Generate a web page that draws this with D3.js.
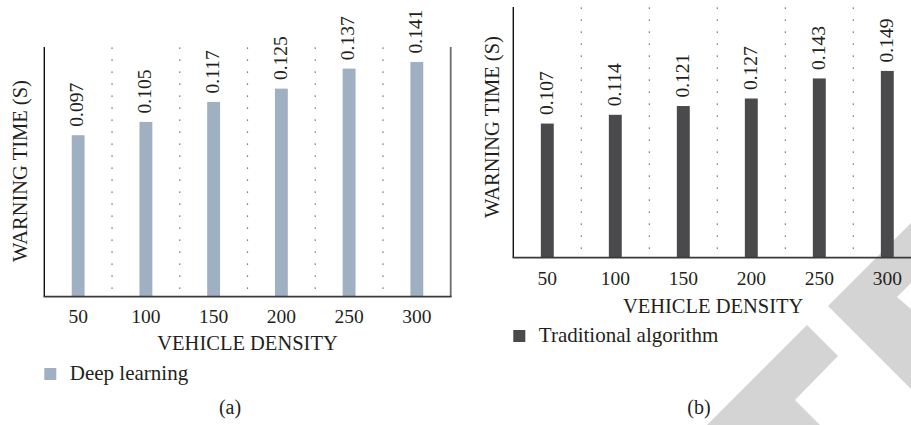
<!DOCTYPE html>
<html>
<head>
<meta charset="utf-8">
<script src="https://cdn.jsdelivr.net/npm/d3@7/dist/d3.min.js"></script>
<style>
  html, body { margin: 0; padding: 0; background: #fff; }
  svg { display: block; }
  text { font-family: "Liberation Serif", "Times New Roman", serif; fill: #231f20; }
</style>
</head>
<body>
<div id="chart"></div>
<script>
const W = 911, H = 425;

// data
const densities = ["50", "100", "150", "200", "250", "300"];
const deepLearning = [0.097, 0.105, 0.117, 0.125, 0.137, 0.141];
const traditional = [0.107, 0.114, 0.121, 0.127, 0.143, 0.149];
const seriesNames = ["Deep learning", "Traditional algorithm"];
const panelLabels = ["(a)", "(b)"];

const svg = d3.select("#chart").append("svg")
  .attr("width", W).attr("height", H)
  .attr("viewBox", `0 0 ${W} ${H}`);

// background watermark chevrons (decoration, bottom right)
const wm = svg.append("g").attr("fill", "#d4d4d4");
wm.append("polygon").attr("points", "940,194 828,306 947,425 947,340 897,297 940,254");
wm.append("polygon").attr("points", "807,325 838,356 795,400 830,435 697,435");

const panels = [
  { values: deepLearning, name: seriesNames[0], tag: panelLabels[0], color: "#9eb0c1",
    x0: 44.3, x1: 450.7, y0: 47, y1: 296.7, yMax: 0.15, rightLine: true,
    titleX: 20, titleY: 171, tickY: 323, xTitleY: 350, legY: 368, tagY: 414 },
  { values: traditional, name: seriesNames[1], tag: panelLabels[1], color: "#4a4a4c",
    x0: 513.3, x1: 921.3, y0: 7, y1: 257.7, yMax: 0.2, rightLine: false,
    titleX: 492, titleY: 127, tickY: 284.5, xTitleY: 313, legY: 330, tagY: 414 }
];

panels.forEach(p => {
  const g = svg.append("g");
  const x = d3.scaleBand().domain(densities).range([p.x0, p.x1]).padding(0);
  const y = d3.scaleLinear().domain([0, p.yMax]).range([p.y1, p.y0]);
  const barW = x.bandwidth() * 0.19;

  // dotted separators between categories
  g.selectAll("line.sep")
    .data(densities.slice(1))
    .join("line")
    .attr("class", "sep")
    .attr("x1", d => x(d)).attr("x2", d => x(d))
    .attr("y1", p.y0 + 0.5).attr("y2", p.y1)
    .attr("stroke", "#555")
    .attr("stroke-width", 1.2)
    .attr("stroke-dasharray", "1.2,10.8");

  // bars
  g.selectAll("rect.bar")
    .data(p.values)
    .join("rect")
    .attr("class", "bar")
    .attr("x", (d, i) => x(densities[i]) + (x.bandwidth() - barW) / 2)
    .attr("width", barW)
    .attr("y", d => y(d))
    .attr("height", d => y(0) - y(d))
    .attr("fill", p.color);

  // value labels, rotated
  g.selectAll("text.val")
    .data(p.values)
    .join("text")
    .attr("class", "val")
    .attr("transform", (d, i) =>
      `translate(${x(densities[i]) + x.bandwidth() / 2 - 1.5},${y(d) - 8.5}) rotate(-90)`)
    .attr("dy", "0.35em")
    .attr("font-size", 19.5)
    .attr("text-anchor", "start")
    .text(d => d3.format(".3f")(d));

  // axes lines
  g.append("line")
    .attr("x1", p.x0).attr("x2", p.x0)
    .attr("y1", p.y0).attr("y2", p.y1)
    .attr("stroke", "#111").attr("stroke-width", 1.4);
  if (p.rightLine) {
    g.append("line")
      .attr("x1", p.x1).attr("x2", p.x1)
      .attr("y1", p.y0).attr("y2", p.y1)
      .attr("stroke", "#6b6b6b").attr("stroke-width", 1.8);
  }
  g.append("line")
    .attr("x1", p.x0 - 0.7).attr("x2", p.x1 + 0.9)
    .attr("y1", p.y1).attr("y2", p.y1)
    .attr("stroke", "#3a3a3a").attr("stroke-width", 1.8);

  // x tick labels via axis generator
  const xAxis = d3.axisBottom(x).tickSize(0).tickPadding(0);
  const ax = g.append("g")
    .attr("transform", `translate(0,${p.tickY})`)
    .call(xAxis);
  ax.select(".domain").remove();
  ax.selectAll("text")
    .attr("dy", 0)
    .attr("font-size", 19.5)
    .attr("font-family", "Liberation Serif")
    .attr("fill", "#231f20");

  // axis titles
  g.append("text")
    .attr("x", (p.x0 + Math.min(p.x1, W + 10)) / 2 + (p.rightLine ? 0 : -4))
    .attr("y", p.xTitleY)
    .attr("text-anchor", "middle")
    .attr("font-size", 20.5)
    .text("VEHICLE DENSITY");

  g.append("text")
    .attr("transform", `translate(${p.titleX},${p.titleY}) rotate(-90)`)
    .attr("dy", "0.35em")
    .attr("text-anchor", "middle")
    .attr("font-size", 20.5)
    .text("WARNING TIME (S)");

  // legend
  g.append("rect")
    .attr("x", p.x0).attr("y", p.legY)
    .attr("width", 12).attr("height", 12)
    .attr("fill", p.color);
  g.append("text")
    .attr("x", p.x0 + 25.5).attr("y", p.legY + 12)
    .attr("font-size", 21)
    .text(p.name);

  // panel tag
  g.append("text")
    .attr("x", p.rightLine ? 230 : 699)
    .attr("y", p.tagY)
    .attr("text-anchor", "middle")
    .attr("font-size", 20)
    .text(p.tag);
});
</script>
</body>
</html>
